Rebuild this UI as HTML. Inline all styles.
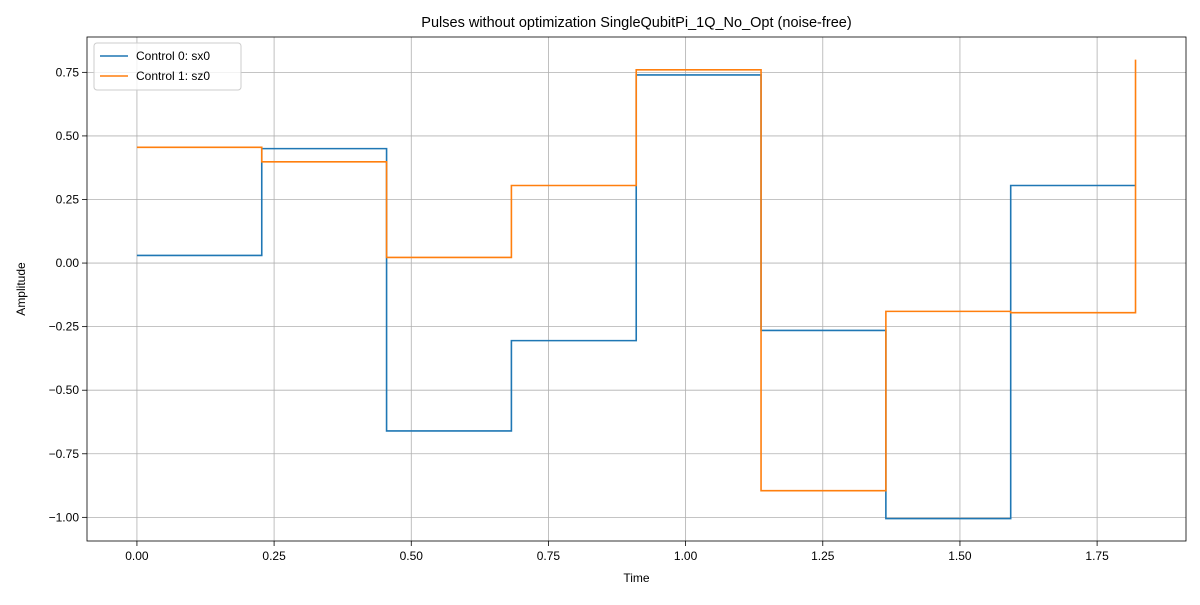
<!DOCTYPE html>
<html><head><meta charset="utf-8"><style>
body{margin:0;background:#fff}
svg text{font-family:"Liberation Sans","DejaVu Sans",sans-serif;fill:#000}
</style></head><body>
<svg id="chart" width="1200" height="600"></svg>
<script>
const times=[0,0.2275,0.455,0.6825,0.91,1.1375,1.365,1.5925,1.82];
const sx0=[0.03,0.45,-0.66,-0.305,0.74,-0.265,-1.005,0.305,0.305];
const sz0=[0.455,0.398,0.022,0.305,0.76,-0.895,-0.19,-0.195,0.80];
const xTicks=[0,0.25,0.5,0.75,1.0,1.25,1.5,1.75];
const yTicks=[0.75,0.5,0.25,0,-0.25,-0.5,-0.75,-1.0];
const L=87,R=1186,T=37,B=541,xmin=-0.091,xmax=1.912,ymin=-1.093,ymax=0.889;
const X=v=>L+(v-xmin)/(xmax-xmin)*(R-L);
const Y=v=>B-(v-ymin)/(ymax-ymin)*(B-T);
const svg=document.getElementById('chart');
const NS='http://www.w3.org/2000/svg';
function mk(t,a,p){const e=document.createElementNS(NS,t);for(const k in a)e.setAttribute(k,a[k]);(p||svg).appendChild(e);return e;}
const fmt=v=>(v<0?'\u2212':'')+Math.abs(v).toFixed(2);
xTicks.forEach(v=>{
const g=mk('line',{x1:X(v),x2:X(v),y1:T,y2:B,stroke:'#b0b0b0','stroke-width':0.8});

mk('line',{x1:X(v),x2:X(v),y1:B,y2:B+5,stroke:'#000','stroke-width':0.8});
const t=mk('text',{x:X(v),y:B+19,'text-anchor':'middle','font-size':12});t.textContent=fmt(v);

});
yTicks.forEach(v=>{
const g=mk('line',{x1:L,x2:R,y1:Y(v),y2:Y(v),stroke:'#b0b0b0','stroke-width':0.8});

mk('line',{x1:L-5,x2:L,y1:Y(v),y2:Y(v),stroke:'#000','stroke-width':0.8});
const t=mk('text',{x:L-8,y:Y(v)+4,'text-anchor':'end','font-size':12});t.textContent=fmt(v);

});
function step(vals,color,name){
let d='M'+X(times[0])+','+Y(vals[0]);
for(let i=1;i<times.length;i++){d+=' L'+X(times[i])+','+Y(vals[i-1])+' L'+X(times[i])+','+Y(vals[i]);}
const p=mk('path',{d:d,fill:'none',stroke:color,'stroke-width':1.6});

}
step(sx0,'#1f77b4','series-sx0');
step(sz0,'#ff7f0e','series-sz0');
const fr=mk('rect',{x:L,y:T,width:R-L,height:B-T,fill:'none',stroke:'#000','stroke-width':0.8});

const ti=mk('text',{x:(L+R)/2,y:27,'text-anchor':'middle','font-size':14.5});ti.textContent='Pulses without optimization SingleQubitPi_1Q_No_Opt (noise-free)';

const xl=mk('text',{x:(L+R)/2,y:582,'text-anchor':'middle','font-size':12});xl.textContent='Time';

const yl=mk('text',{x:25,y:(T+B)/2,'text-anchor':'middle','font-size':12,transform:'rotate(-90 25 '+(T+B)/2+')'});yl.textContent='Amplitude';

const lg=mk('g',{});

mk('rect',{x:94,y:43,width:147,height:47,rx:3,fill:'#fff','fill-opacity':0.8,stroke:'#ccc'},lg);
[['Control 0: sx0','#1f77b4'],['Control 1: sz0','#ff7f0e']].forEach((e,i)=>{
const y=56+i*20;
mk('line',{x1:100,x2:128,y1:y,y2:y,stroke:e[1],'stroke-width':1.6},lg);
const t=mk('text',{x:136,y:y+4,'font-size':12},lg);t.textContent=e[0];

});
</script>
</body></html>
